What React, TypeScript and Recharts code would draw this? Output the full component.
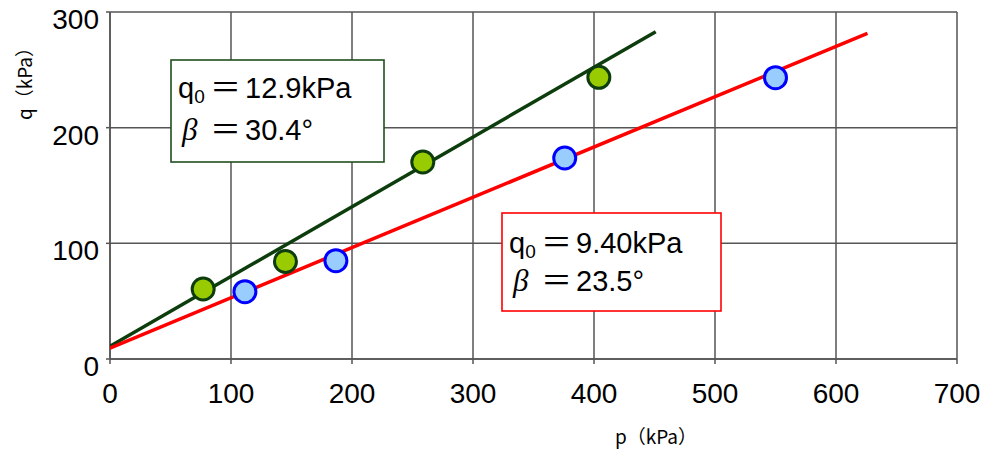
import React from 'react';
import { ScatterChart, Scatter, XAxis, YAxis, CartesianGrid } from 'recharts';

const xTicks = [0, 100, 200, 300, 400, 500, 600, 700];
const yTicks = [0, 100, 200, 300];

const greenPoints = [
  { p: 77, q: 60.5 },
  { p: 145, q: 84.3 },
  { p: 258.5, q: 170.3 },
  { p: 404, q: 243.5 },
];
const bluePoints = [
  { p: 111.5, q: 58.2 },
  { p: 186.7, q: 85.0 },
  { p: 375.8, q: 173.8 },
  { p: 550, q: 243.2 },
];
const greenLine = [
  { p: 0, q: 11 },
  { p: 451, q: 283 },
];
const redLine = [
  { p: 0, q: 9.4 },
  { p: 626, q: 281.5 },
];

const greenLabel = { q0: '12.9kPa', beta: '30.4°' };
const redLabel = { q0: '9.40kPa', beta: '23.5°' };
const xAxisLabel = 'p（kPa）';
const yAxisLabel = 'q（kPa）';

const SANS = '"Liberation Sans", Arial, "Noto Sans CJK JP", sans-serif';
const CJK = '"Noto Sans CJK JP", "Liberation Sans", sans-serif';
const SERIF = '"Liberation Serif", "DejaVu Serif", serif';
const GRID = '#555555';

const XTick = (props: any) => {
  const { x, y, payload } = props;
  return (
    <text x={x} y={y} dy={37} textAnchor="middle" fontSize={28} fill="#000" fontFamily={SANS}>
      {payload.value}
    </text>
  );
};

const YTick = (props: any) => {
  const { x, y, payload } = props;
  return (
    <text x={x} y={y} dx={-5} dy={17} textAnchor="end" fontSize={28} fill="#000" fontFamily={SANS}>
      {payload.value}
    </text>
  );
};

const greenDot = (props: any) => (
  <circle cx={props.cx} cy={props.cy} r={11} fill="#99cc00" stroke="#0d3d0d" strokeWidth={3} />
);
const blueDot = (props: any) => (
  <circle cx={props.cx} cy={props.cy} r={11} fill="#99ccff" stroke="#0000ff" strokeWidth={3} />
);
const noDot = () => <g />;

const NoteBox = ({ x, y, w, h, stroke, base1, base2, label }: any) => (
  <g>
    <rect x={x} y={y} width={w} height={h} fill="#fff" stroke={stroke} strokeWidth={1.6} />
    <text x={x + 7} y={base1} fontSize={29} fill="#000" fontFamily={SANS}>
      q
      <tspan fontSize={19} dy={5}>0</tspan>
      <tspan x={x + 39} dy={-5} fontSize={31} fontFamily={CJK}>＝</tspan>
      <tspan x={x + 74} fontSize={29} fontFamily={SANS}>{label.q0}</tspan>
    </text>
    <text x={x + 11} y={base2} fontSize={31} fontStyle="italic" fill="#000" fontFamily={SERIF}>
      β
      <tspan x={x + 39} fontStyle="normal" fontFamily={CJK}>＝</tspan>
      <tspan x={x + 74} fontStyle="normal" fontSize={29} fontFamily={SANS}>{label.beta}</tspan>
    </text>
  </g>
);

export default function App() {
  return (
    <div style={{ position: 'absolute', left: 0, top: 0, width: 984, height: 454, background: '#fff' }}>
      <ScatterChart width={984} height={454} margin={{ top: 12, right: 27, bottom: 0, left: 30 }}>
        <CartesianGrid stroke={GRID} strokeWidth={1.5} fill="none" />
        <XAxis
          type="number"
          dataKey="p"
          domain={[0, 700]}
          ticks={xTicks}
          interval={0}
          height={95}
          tickSize={5}
          axisLine={{ stroke: GRID, strokeWidth: 1.5 }}
          tickLine={{ stroke: GRID, strokeWidth: 1.5 }}
          tick={<XTick />}
          allowDataOverflow
        />
        <YAxis
          type="number"
          dataKey="q"
          domain={[0, 300]}
          ticks={yTicks}
          interval={0}
          width={80}
          tickSize={4}
          axisLine={{ stroke: GRID, strokeWidth: 1.5 }}
          tickLine={{ stroke: GRID, strokeWidth: 1.5 }}
          tick={<YTick />}
          allowDataOverflow
        />
        <Scatter data={greenLine} line={{ stroke: '#0d3d0d', strokeWidth: 3.5 }} shape={noDot} isAnimationActive={false} />
        <Scatter data={redLine} line={{ stroke: '#ff0000', strokeWidth: 3.5 }} shape={noDot} isAnimationActive={false} />
        <Scatter data={greenPoints} shape={greenDot} isAnimationActive={false} />
        <Scatter data={bluePoints} shape={blueDot} isAnimationActive={false} />
      </ScatterChart>
      <svg width={984} height={454} style={{ position: 'absolute', left: 0, top: 0, pointerEvents: 'none' }}>
        <NoteBox x={171} y={60} w={213} h={102} stroke="#1f4f1f" base1={98} base2={140} label={greenLabel} />
        <NoteBox x={502} y={213} w={219} h={98} stroke="#ff0000" base1={253} base2={291} label={redLabel} />
        <text x={656} y={444} textAnchor="middle" fontSize={19} fill="#000" fontFamily={CJK}>{xAxisLabel}</text>
        <text
          x={0}
          y={0}
          transform="translate(32,79) rotate(-90)"
          textAnchor="middle"
          fontSize={19}
          fill="#000"
          fontFamily={CJK}
        >
          {yAxisLabel}
        </text>
      </svg>
    </div>
  );
}
